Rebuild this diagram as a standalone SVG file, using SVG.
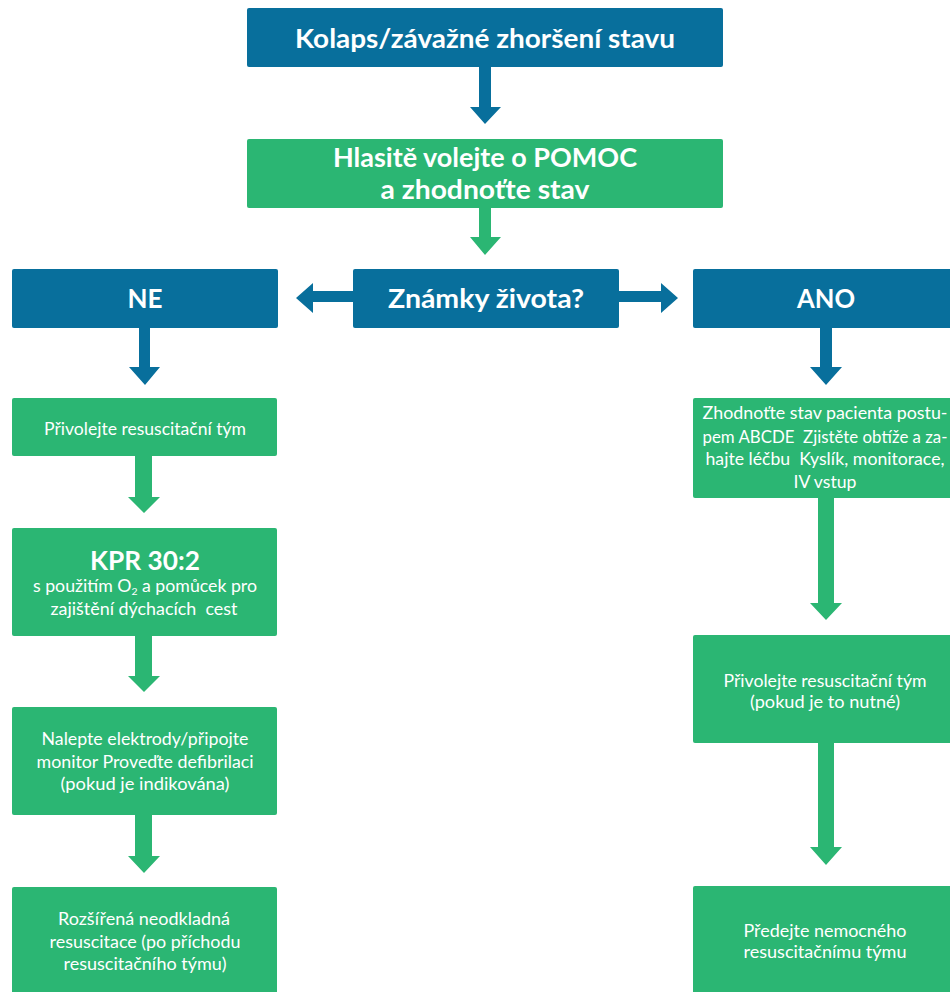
<svg xmlns="http://www.w3.org/2000/svg" width="950" height="992" viewBox="0 0 950 992">
<defs>
<style>
.blue{fill:#086f9c;}
.green{fill:#2bb673;}
.hdr{font-family:Lato,"Open Sans","Liberation Sans",sans-serif;font-weight:bold;font-size:27px;fill:#fff;text-anchor:middle;}
.body{font-family:Lato,"Open Sans","Liberation Sans",sans-serif;font-size:17px;fill:#fff;text-anchor:middle;white-space:pre;}
.big{font-family:Lato,"Open Sans","Liberation Sans",sans-serif;font-weight:bold;font-size:26px;fill:#fff;text-anchor:middle;}
</style>
</defs>
<rect width="950" height="992" fill="#ffffff"/>

<g id="connectors">
  <polygon class="blue" points="479,67 491,67 491,107 501,107 485,124 470,107 479,107"/>
  <polygon class="green" points="479,208 491,208 491,237 501,237 485,255 470,237 479,237"/>
  <polygon class="blue" points="353,291 313,291 313,283 296,298 313,313 313,302 353,302"/>
  <polygon class="blue" points="619,291 661,291 661,283 678,298 661,313 661,302 619,302"/>
  <polygon class="blue" points="139,328 150,328 150,367 160,367 145,385 129,367 139,367"/>
  <polygon class="blue" points="820,328 832,328 832,367 842,367 826,385 810,367 820,367"/>
  <polygon class="green" points="135,456 152,456 152,497 160,497 144,513 128,497 135,497"/>
  <polygon class="green" points="135,636 152,636 152,676 160,676 144,692 128,676 135,676"/>
  <polygon class="green" points="135,815 152,815 152,856 160,856 144,873 128,856 135,856"/>
  <polygon class="green" points="818,498 834,498 834,603 842,603 826,620 810,603 818,603"/>
  <polygon class="green" points="818,743 834,743 834,847 842,847 826,865 810,847 818,847"/>
</g>

<g id="n-kolaps">
  <rect class="blue" x="247" y="8" width="476" height="59" rx="2"/>
  <text class="hdr" x="485" y="48" textLength="380" lengthAdjust="spacingAndGlyphs">Kolaps/závažné zhoršení stavu</text>
</g>

<g id="n-pomoc">
  <rect class="green" x="247" y="139" width="476" height="69" rx="2"/>
  <text class="hdr" x="485" y="167" textLength="304" lengthAdjust="spacingAndGlyphs">Hlasitě volejte o POMOC</text>
  <text class="hdr" x="485" y="199" textLength="209" lengthAdjust="spacingAndGlyphs">a zhodnoťte stav</text>
</g>

<g id="n-ne">
  <rect class="blue" x="12" y="269" width="266" height="59" rx="2"/>
  <text class="hdr" x="145" y="308" textLength="35" lengthAdjust="spacingAndGlyphs">NE</text>
</g>

<g id="n-znamky">
  <rect class="blue" x="353" y="269" width="266" height="59" rx="2"/>
  <text class="hdr" x="486" y="308" textLength="196" lengthAdjust="spacingAndGlyphs">Známky života?</text>
</g>

<g id="n-ano">
  <rect class="blue" x="693" y="269" width="262" height="59" rx="2"/>
  <text class="hdr" x="826" y="308" textLength="58" lengthAdjust="spacingAndGlyphs">ANO</text>
</g>

<g id="n-privolejte-left">
  <rect class="green" x="12" y="398" width="265" height="58" rx="2"/>
  <text class="body" x="145" y="435" textLength="202" lengthAdjust="spacingAndGlyphs">Přivolejte resuscitační tým</text>
</g>

<g id="n-kpr">
  <rect class="green" x="12" y="528" width="265" height="108" rx="2"/>
  <text class="big" x="145" y="570" textLength="110" lengthAdjust="spacingAndGlyphs">KPR 30:2</text>
  <text class="body" x="145" y="592" textLength="224" lengthAdjust="spacingAndGlyphs">s použitím O<tspan font-size="10" dy="3">2</tspan><tspan dy="-3"> a pomůcek pro</tspan></text>
  <text class="body" x="144" y="615" textLength="187" lengthAdjust="spacingAndGlyphs" xml:space="preserve">zajištění dýchacích  cest</text>
</g>

<g id="n-nalepte">
  <rect class="green" x="12" y="707" width="265" height="108" rx="2"/>
  <text class="body" x="145" y="745" textLength="207" lengthAdjust="spacingAndGlyphs">Nalepte elektrody/připojte</text>
  <text class="body" x="145" y="768" textLength="217" lengthAdjust="spacingAndGlyphs">monitor Proveďte defibrilaci</text>
  <text class="body" x="145" y="790" textLength="169" lengthAdjust="spacingAndGlyphs">(pokud je indikována)</text>
</g>

<g id="n-rozsirena">
  <rect class="green" x="12" y="887" width="265" height="110" rx="2"/>
  <text class="body" x="144" y="925" textLength="172" lengthAdjust="spacingAndGlyphs">Rozšířená neodkladná</text>
  <text class="body" x="145" y="948" textLength="191" lengthAdjust="spacingAndGlyphs">resuscitace (po příchodu</text>
  <text class="body" x="145" y="970" textLength="163" lengthAdjust="spacingAndGlyphs">resuscitačního týmu)</text>
</g>

<g id="n-zhodnotte">
  <rect class="green" x="693" y="398" width="262" height="100" rx="2"/>
  <text class="body" x="825" y="419" textLength="245" lengthAdjust="spacingAndGlyphs">Zhodnoťte stav pacienta postu-</text>
  <text class="body" x="825" y="443" textLength="245" lengthAdjust="spacingAndGlyphs" xml:space="preserve">pem ABCDE  Zjistěte obtíže a za-</text>
  <text class="body" x="825" y="465" textLength="239" lengthAdjust="spacingAndGlyphs" xml:space="preserve">hajte léčbu  Kyslík, monitorace,</text>
  <text class="body" x="825" y="488" textLength="63" lengthAdjust="spacingAndGlyphs">IV vstup</text>
</g>

<g id="n-privolejte-right">
  <rect class="green" x="693" y="635" width="262" height="108" rx="2"/>
  <text class="body" x="825" y="687" textLength="203" lengthAdjust="spacingAndGlyphs">Přivolejte resuscitační tým</text>
  <text class="body" x="825" y="708" textLength="150" lengthAdjust="spacingAndGlyphs">(pokud je to nutné)</text>
</g>

<g id="n-predejte">
  <rect class="green" x="693" y="886" width="262" height="111" rx="2"/>
  <text class="body" x="825" y="937" textLength="163" lengthAdjust="spacingAndGlyphs">Předejte nemocného</text>
  <text class="body" x="825" y="958" textLength="163" lengthAdjust="spacingAndGlyphs">resuscitačnímu týmu</text>
</g>
</svg>
